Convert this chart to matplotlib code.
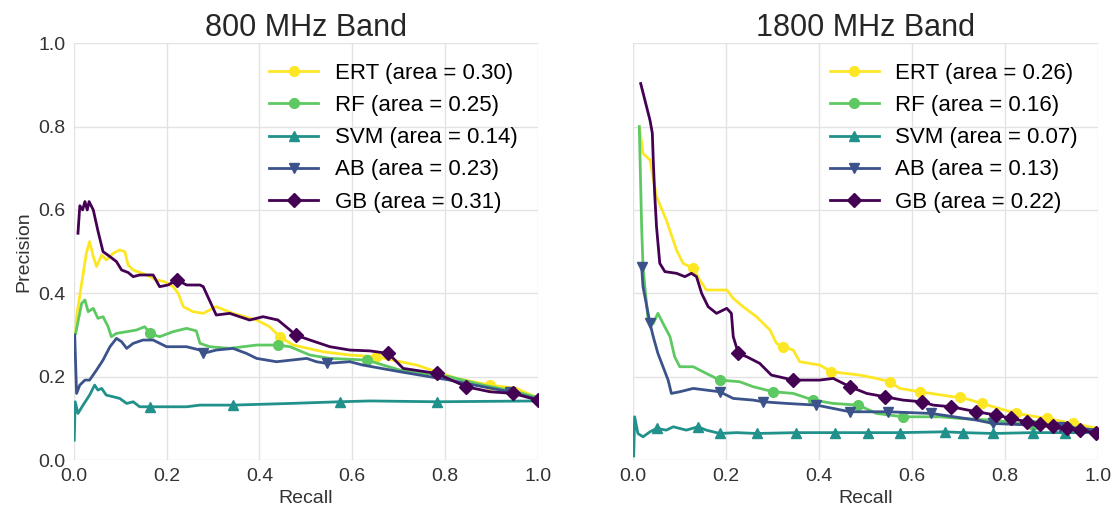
import numpy as np
import matplotlib
matplotlib.use('Agg')
import matplotlib.pyplot as plt

# ---- 800 MHz band (recall, precision) ----
ert800_r = [0.004, 0.006, 0.017, 0.027, 0.034, 0.042, 0.049, 0.06, 0.07, 0.085, 0.099, 0.11, 0.117, 0.128,
            0.157, 0.178, 0.196, 0.214, 0.225, 0.236, 0.257, 0.279, 0.307, 0.343, 0.394, 0.422, 0.444, 0.473,
            0.537, 0.595, 0.652, 0.739, 0.825, 0.897, 0.954, 1.0]
ert800_p = [0.304, 0.344, 0.424, 0.496, 0.524, 0.488, 0.464, 0.492, 0.48, 0.496, 0.504, 0.50, 0.468, 0.456,
            0.444, 0.432, 0.428, 0.416, 0.40, 0.368, 0.356, 0.352, 0.368, 0.352, 0.336, 0.32, 0.296, 0.276,
            0.26, 0.252, 0.248, 0.228, 0.196, 0.18, 0.172, 0.149]
ert800_mk = [0.444, 0.652, 0.897]

rf800_r = [0.004, 0.017, 0.024, 0.031, 0.042, 0.052, 0.063, 0.074, 0.081, 0.092, 0.114, 0.135, 0.153, 0.164,
           0.185, 0.214, 0.243, 0.264, 0.272, 0.293, 0.336, 0.394, 0.44, 0.466, 0.509, 0.552, 0.631, 0.703,
           0.81, 0.882, 0.954, 1.0]
rf800_p = [0.304, 0.376, 0.384, 0.356, 0.364, 0.34, 0.344, 0.32, 0.296, 0.304, 0.308, 0.312, 0.32, 0.304,
           0.296, 0.308, 0.316, 0.31, 0.28, 0.272, 0.268, 0.276, 0.276, 0.272, 0.252, 0.244, 0.24, 0.216,
           0.20, 0.18, 0.164, 0.15]
rf800_mk = [0.164, 0.44, 0.631]

svm800_r = [0.001, 0.003, 0.009, 0.02, 0.034, 0.045, 0.052, 0.06, 0.07, 0.085, 0.099, 0.114, 0.128, 0.142,
            0.164, 0.2, 0.243, 0.272, 0.343, 0.466, 0.573, 0.638, 0.782, 1.0]
svm800_p = [0.048, 0.14, 0.112, 0.132, 0.156, 0.18, 0.168, 0.172, 0.156, 0.152, 0.148, 0.136, 0.14, 0.128,
            0.128, 0.128, 0.128, 0.132, 0.132, 0.136, 0.14, 0.142, 0.14, 0.142]
svm800_mk = [0.164, 0.343, 0.573, 0.782]

ab800_r = [0.002, 0.006, 0.013, 0.024, 0.034, 0.049, 0.063, 0.078, 0.092, 0.103, 0.114, 0.128, 0.149, 0.171,
           0.20, 0.243, 0.272, 0.279, 0.307, 0.343, 0.372, 0.394, 0.437, 0.502, 0.523, 0.545, 0.595, 0.623,
           0.703, 0.81, 0.882, 0.94, 1.0]
ab800_p = [0.30, 0.16, 0.18, 0.192, 0.192, 0.216, 0.24, 0.272, 0.292, 0.284, 0.268, 0.28, 0.288, 0.288,
           0.272, 0.272, 0.264, 0.256, 0.264, 0.268, 0.256, 0.244, 0.236, 0.244, 0.236, 0.232, 0.236, 0.228,
           0.212, 0.192, 0.176, 0.164, 0.146]
ab800_mk = [0.279, 0.545, 0.94]

gb800_r = [0.009, 0.013, 0.019, 0.024, 0.029, 0.033, 0.042, 0.052, 0.063, 0.078, 0.092, 0.103, 0.117, 0.128,
           0.142, 0.171, 0.185, 0.203, 0.223, 0.243, 0.272, 0.279, 0.307, 0.336, 0.379, 0.408, 0.44, 0.466,
           0.478, 0.509, 0.552, 0.595, 0.638, 0.678, 0.71, 0.782, 0.846, 0.897, 0.947, 1.0]
gb800_p = [0.544, 0.61, 0.60, 0.62, 0.60, 0.62, 0.60, 0.55, 0.50, 0.488, 0.476, 0.456, 0.45, 0.44,
           0.444, 0.444, 0.416, 0.42, 0.432, 0.42, 0.42, 0.416, 0.348, 0.352, 0.336, 0.344, 0.336, 0.312,
           0.30, 0.288, 0.272, 0.264, 0.262, 0.256, 0.22, 0.208, 0.176, 0.164, 0.16, 0.144]
gb800_mk = [0.223, 0.478, 0.678, 0.782, 0.846, 0.947, 1.0]

# ---- 1800 MHz band ----
ert1800_r = [0.015, 0.022, 0.037, 0.051, 0.072, 0.094, 0.108, 0.13, 0.144, 0.158, 0.202, 0.216, 0.237, 0.266,
             0.295, 0.309, 0.323, 0.345, 0.359, 0.402, 0.427, 0.488, 0.524, 0.553, 0.574, 0.617, 0.689, 0.703,
             0.75, 0.825, 0.89, 0.947, 1.0]
ert1800_p = [0.795, 0.735, 0.72, 0.632, 0.576, 0.504, 0.472, 0.46, 0.432, 0.408, 0.408, 0.388, 0.368, 0.344,
             0.312, 0.28, 0.272, 0.264, 0.236, 0.228, 0.212, 0.204, 0.196, 0.188, 0.172, 0.164, 0.152, 0.152,
             0.136, 0.112, 0.10, 0.088, 0.076]
ert1800_mk = [0.13, 0.323, 0.427, 0.553, 0.617, 0.703, 0.75, 0.825, 0.89, 0.947]

rf1800_r = [0.014, 0.019, 0.022, 0.026, 0.033, 0.044, 0.054, 0.065, 0.08, 0.09, 0.101, 0.13, 0.158, 0.187,
            0.23, 0.259, 0.302, 0.345, 0.388, 0.431, 0.485, 0.524, 0.581, 0.66, 0.703, 0.775, 0.86, 0.933, 1.0]
rf1800_p = [0.80, 0.56, 0.464, 0.416, 0.336, 0.328, 0.352, 0.328, 0.296, 0.248, 0.224, 0.224, 0.208, 0.192,
            0.188, 0.176, 0.164, 0.16, 0.144, 0.136, 0.132, 0.112, 0.104, 0.104, 0.10, 0.096, 0.084, 0.08, 0.072]
rf1800_mk = [0.187, 0.302, 0.388, 0.485, 0.581, 0.775, 0.86, 0.933]

svm1800_r = [0.002, 0.004, 0.011, 0.022, 0.037, 0.051, 0.072, 0.087, 0.115, 0.14, 0.158, 0.187, 0.223, 0.266,
             0.352, 0.434, 0.506, 0.574, 0.671, 0.71, 0.775, 0.86, 0.929, 1.0]
svm1800_p = [0.01, 0.104, 0.064, 0.056, 0.068, 0.076, 0.072, 0.08, 0.072, 0.08, 0.072, 0.064, 0.066, 0.064,
             0.066, 0.066, 0.066, 0.066, 0.068, 0.066, 0.064, 0.066, 0.066, 0.066]
svm1800_mk = [0.051, 0.14, 0.187, 0.266, 0.352, 0.434, 0.506, 0.574, 0.671, 0.71, 0.775, 0.86, 0.929]

ab1800_r = [0.019, 0.022, 0.037, 0.044, 0.054, 0.065, 0.076, 0.083, 0.101, 0.13, 0.158, 0.187, 0.216, 0.259,
            0.28, 0.331, 0.395, 0.467, 0.549, 0.642, 0.739, 0.775, 0.86, 0.918, 1.0]
ab1800_p = [0.464, 0.416, 0.328, 0.296, 0.256, 0.224, 0.192, 0.16, 0.164, 0.172, 0.168, 0.164, 0.148, 0.144,
            0.14, 0.136, 0.132, 0.116, 0.116, 0.112, 0.096, 0.088, 0.084, 0.08, 0.072]
ab1800_mk = [0.019, 0.037, 0.187, 0.28, 0.395, 0.467, 0.549, 0.642, 0.775, 0.918]

gb1800_r = [0.017, 0.037, 0.042, 0.044, 0.047, 0.051, 0.058, 0.069, 0.094, 0.112, 0.126, 0.137, 0.148, 0.162,
            0.18, 0.202, 0.212, 0.216, 0.227, 0.245, 0.273, 0.298, 0.345, 0.402, 0.431, 0.467, 0.503, 0.542,
            0.581, 0.621, 0.646, 0.685, 0.739, 0.782, 0.814, 0.847, 0.875, 0.904, 0.933, 0.961, 0.997]
gb1800_p = [0.903, 0.815, 0.784, 0.72, 0.64, 0.56, 0.472, 0.452, 0.448, 0.44, 0.448, 0.44, 0.40, 0.368,
            0.352, 0.364, 0.352, 0.296, 0.256, 0.248, 0.232, 0.204, 0.192, 0.192, 0.196, 0.176, 0.16, 0.152,
            0.144, 0.14, 0.132, 0.128, 0.116, 0.108, 0.10, 0.092, 0.087, 0.082, 0.076, 0.072, 0.065]
gb1800_mk = [0.227, 0.345, 0.467, 0.542, 0.621, 0.685, 0.739, 0.782, 0.814, 0.847, 0.875, 0.904, 0.933,
             0.961, 0.997]

models = ['ERT', 'RF', 'SVM', 'AB', 'GB']
areas_800 = [0.30, 0.25, 0.14, 0.23, 0.31]
areas_1800 = [0.26, 0.16, 0.07, 0.13, 0.22]
markers = ['o', 'o', '^', 'v', 'D']
colors = plt.cm.viridis(np.linspace(1, 0, 5))

plt.rcParams['font.family'] = ['Liberation Sans', 'DejaVu Sans']


def mark_idx(rec, marks):
    rec = np.asarray(rec)
    return [int(np.argmin(np.abs(rec - m))) for m in marks]


def draw_band(ax, curves, areas, title):
    for i, (r, p, mk) in enumerate(curves):
        ax.plot(r, p, color=colors[i], lw=2, marker=markers[i], markersize=7,
                markevery=mark_idx(r, mk),
                label='%s (area = %.2f)' % (models[i], areas[i]))
    ax.set_xlim(0, 1)
    ax.set_ylim(0, 1)
    ax.set_xticks(np.arange(0, 1.01, 0.2))
    ax.set_yticks(np.arange(0, 1.01, 0.2))
    ax.grid(True, color='#e3e3e3', lw=1)
    ax.set_axisbelow(True)
    for s in ax.spines.values():
        s.set_visible(False)
    ax.tick_params(length=0, labelsize=14, labelcolor='#333333', pad=6)
    ax.set_xlabel('Recall', fontsize=14, color='#333333', labelpad=3)
    ax.set_title(title, fontsize=22, color='#262626', pad=5)
    ax.legend(loc='upper right', frameon=False, fontsize=16, handlelength=2.2,
              handletextpad=0.75, labelspacing=0.5, borderaxespad=0.5)


fig = plt.figure(figsize=(11.18, 5.13), dpi=100)
ax1 = fig.add_axes([0.066, 0.103, 0.415, 0.813])
ax2 = fig.add_axes([0.566, 0.103, 0.416, 0.813], sharey=ax1)

draw_band(ax1, [(ert800_r, ert800_p, ert800_mk), (rf800_r, rf800_p, rf800_mk),
                (svm800_r, svm800_p, svm800_mk), (ab800_r, ab800_p, ab800_mk),
                (gb800_r, gb800_p, gb800_mk)], areas_800, '800 MHz Band')
draw_band(ax2, [(ert1800_r, ert1800_p, ert1800_mk), (rf1800_r, rf1800_p, rf1800_mk),
                (svm1800_r, svm1800_p, svm1800_mk), (ab1800_r, ab1800_p, ab1800_mk),
                (gb1800_r, gb1800_p, gb1800_mk)], areas_1800, '1800 MHz Band')
ax1.set_ylabel('Precision', fontsize=14, color='#333333')
plt.setp(ax2.get_yticklabels(), visible=False)

fig.savefig('out.png', dpi=100)
